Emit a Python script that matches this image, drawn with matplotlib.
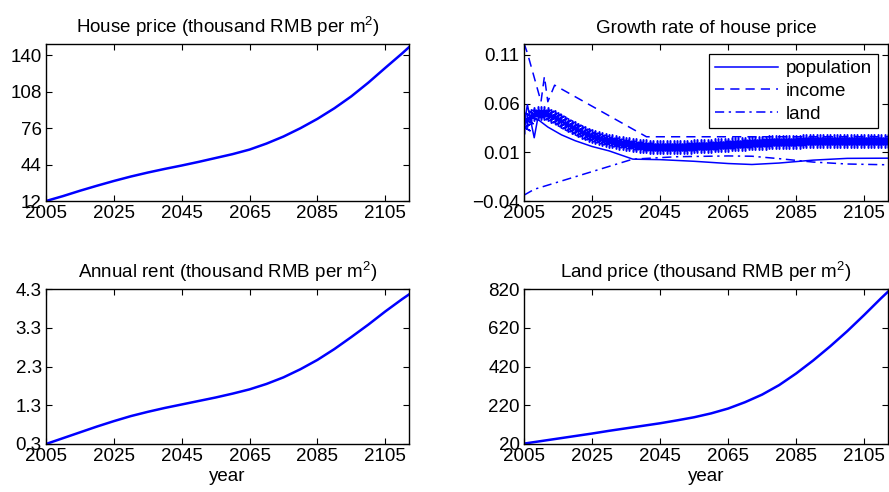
import matplotlib
matplotlib.use("Agg")
import matplotlib.pyplot as plt

plt.rcParams['font.family'] = ['Liberation Sans', 'DejaVu Sans']
plt.rcParams['mathtext.fontset'] = 'custom'
plt.rcParams['mathtext.rm'] = 'Liberation Sans'

BLUE = '#0000ff'
FS = 13.5

# ---- level series, every five years (last point 2112) ----
years5 = [2005, 2010, 2015, 2020, 2025, 2030, 2035, 2040, 2045, 2050, 2055, 2060,
          2065, 2070, 2075, 2080, 2085, 2090, 2095, 2100, 2105, 2110, 2112]
house_price = [12, 16.3, 21, 25.4, 29.6, 33.5, 37, 40.2, 43.2, 46.4, 49.8, 53.2,
               57.2, 62.5, 68.7, 76, 84.2, 93.5, 104, 116, 129, 141.8, 147.2]
annual_rent = [0.3, 0.45, 0.6, 0.75, 0.89, 1.02, 1.13, 1.23, 1.32, 1.41, 1.50, 1.60,
               1.71, 1.85, 2.02, 2.23, 2.47, 2.75, 3.06, 3.38, 3.72, 4.04, 4.16]
land_price = [22, 35, 48, 61, 74, 88, 101, 114, 127, 142, 158, 178,
              203, 236, 275, 324, 384, 451, 524, 602, 686, 773, 806]

# ---- growth rate of house price, yearly 2005-2112 ----
growth_years = list(range(2005, 2113))
growth_house = [
    0.036, 0.043, 0.047, 0.049, 0.050, 0.0505, 0.050, 0.049, 0.0475, 0.046,
    0.0443, 0.0425, 0.0405, 0.0385, 0.0365, 0.0345, 0.0328, 0.0312, 0.0297, 0.0283,
    0.0270, 0.0258, 0.0247, 0.0237, 0.0228, 0.0220, 0.0212, 0.0205, 0.0198, 0.0192,
    0.0186, 0.0181, 0.0176, 0.0172, 0.0168, 0.0165, 0.0162, 0.0159, 0.0157, 0.0155,
    0.0153, 0.0152, 0.0151, 0.0151, 0.0151, 0.0152, 0.0153, 0.0154, 0.0156, 0.0158,
    0.0160, 0.0162, 0.0164, 0.0166, 0.0168, 0.0170, 0.0172, 0.0174, 0.0176, 0.0178,
    0.0180, 0.0182, 0.0184, 0.0186, 0.0188, 0.0190, 0.0192, 0.0194, 0.0196, 0.0198,
    0.0200, 0.0201, 0.0202, 0.0203, 0.0204, 0.0205, 0.0206, 0.0207, 0.0208, 0.0209,
    0.0210, 0.0211, 0.0212, 0.0213, 0.0213, 0.0214, 0.0214, 0.0214, 0.0215, 0.0215,
    0.0215, 0.0215, 0.0215, 0.0216, 0.0216, 0.0216, 0.0216, 0.0216, 0.0216, 0.0216,
    0.0216, 0.0216, 0.0216, 0.0216, 0.0216, 0.0216, 0.0216, 0.0216,
]

pop_years = [2005, 2006, 2008, 2009, 2012, 2016, 2020, 2025, 2030, 2037, 2045, 2055,
             2065, 2072, 2080, 2090, 2100, 2112]
pop_growth = [0.037, 0.059, 0.025, 0.044, 0.036, 0.028, 0.022, 0.016, 0.0115, 0.003,
              0.0025, 0.0008, -0.0015, -0.0025, -0.001, 0.002, 0.0038, 0.004]

inc_years = [2005, 2006, 2010, 2011, 2012, 2014, 2041, 2112]
inc_growth = [0.122, 0.112, 0.062, 0.088, 0.062, 0.079, 0.026, 0.026]

land_years = [2005, 2008, 2037, 2050, 2065, 2072, 2080, 2090, 2100, 2112]
land_growth = [-0.034, -0.028, 0.003, 0.0055, 0.0063, 0.006, 0.0035, 0.0, -0.002, -0.0028]

xticks = [2005, 2025, 2045, 2065, 2085, 2105]
xlim = (2005, 2112)

W, H = 889, 492
fig = plt.figure(figsize=(W / 100, H / 100), dpi=100)


def make_ax(left, top, right, bottom):
    return fig.add_axes([left / W, (H - bottom) / H, (right - left) / W, (bottom - top) / H])


def style(ax, yticks, ylim, title):
    ax.set_xlim(*xlim)
    ax.set_ylim(*ylim)
    ax.set_xticks(xticks)
    ax.set_yticks(yticks)
    ax.tick_params(direction='in', top=True, right=True, length=4, width=0.8,
                   labelsize=FS)
    ax.tick_params(axis='x', pad=3)
    ax.tick_params(axis='y', pad=3)
    for s in ax.spines.values():
        s.set_linewidth(1.0)
    ax.set_title(title, fontsize=FS, pad=8)


ax1 = make_ax(46, 44, 409, 201)
ax1.plot(years5, house_price, color=BLUE, lw=1.8)
style(ax1, [12, 44, 76, 108, 140], (12, 150), 'House price (thousand RMB per m$^2$)')

ax2 = make_ax(524, 44, 888, 201)
ax2.plot(pop_years, pop_growth, color=BLUE, lw=1.1, ls='-', label='population')
ax2.plot(inc_years, inc_growth, color=BLUE, lw=1.1, ls=(0, (6, 4)), label='income')
ax2.plot(land_years, land_growth, color=BLUE, lw=1.1, ls=(0, (6, 3, 1.5, 3)), label='land')
ax2.plot(growth_years, growth_house, color=BLUE, lw=0.9, marker=(6, 2, 0),
         markersize=10, markeredgewidth=1.1)
style(ax2, [-0.04, 0.01, 0.06, 0.11], (-0.04, 0.1213), 'Growth rate of house price')
ax2.set_yticklabels(['\u22120.04', '0.01', '0.06', '0.11'])
leg = ax2.legend(loc='upper right', fontsize=FS, frameon=True, fancybox=False,
                 edgecolor='black', framealpha=1, handlelength=3.4,
                 borderpad=0.3, labelspacing=0.3, handletextpad=0.4,
                 borderaxespad=0.55)
leg.get_frame().set_linewidth(0.9)

ax3 = make_ax(46, 289, 409, 444)
ax3.plot(years5, annual_rent, color=BLUE, lw=1.8)
style(ax3, [0.3, 1.3, 2.3, 3.3, 4.3], (0.3, 4.3), 'Annual rent (thousand RMB per m$^2$)')
ax3.set_xlabel('year', fontsize=FS, labelpad=2)

ax4 = make_ax(524, 289, 888, 444)
ax4.plot(years5, land_price, color=BLUE, lw=1.8)
style(ax4, [20, 220, 420, 620, 820], (20, 820), 'Land price (thousand RMB per m$^2$)')
ax4.set_xlabel('year', fontsize=FS, labelpad=2)

fig.savefig('out.png', dpi=100)
